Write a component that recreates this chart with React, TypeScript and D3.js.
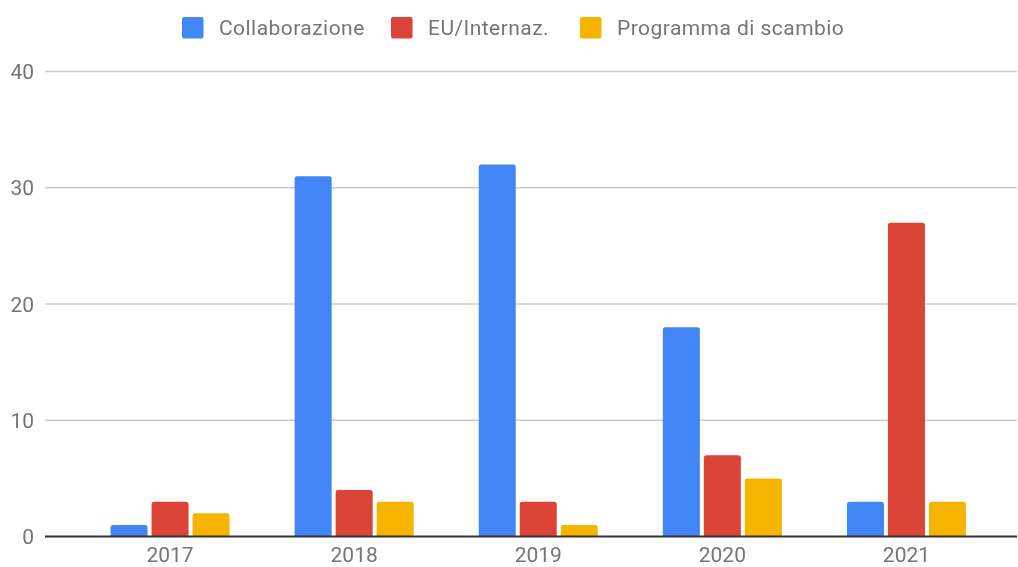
import React from "react";
// @ts-ignore
import * as d3 from "d3";

const WIDTH = 1018;
const HEIGHT = 567;

const years = ["2017", "2018", "2019", "2020", "2021"];
const seriesNames = ["Collaborazione", "EU/Internaz.", "Programma di scambio"];
const collaborazione = [1, 31, 32, 18, 3];
const euInternaz = [3, 4, 3, 7, 27];
const scambio = [2, 3, 1, 5, 3];
const yTicks = [0, 10, 20, 30, 40];
const colors = ["#4285F4", "#DB4437", "#F4B400"];

const FONT = "Roboto, Arial, sans-serif";
const FS = 21;

const App = () => {
  const svgRef = React.useRef<SVGSVGElement>(null);

  React.useEffect(() => {
    const svg = d3.select(svgRef.current);
    svg.selectAll("*").remove();

    const values = [collaborazione, euInternaz, scambio];

    const y = d3.scaleLinear().domain([0, 40]).range([536.5, 71.5]);
    const x0 = d3.scaleBand().domain(years).range([78, 998.5]);
    const x1 = d3
      .scaleBand()
      .domain(seriesNames)
      .range([0, 119])
      .paddingInner(0.0976);

    // gridlines
    svg
      .append("g")
      .selectAll("line")
      .data(yTicks.filter((t) => t > 0))
      .join("line")
      .attr("x1", 45)
      .attr("x2", 1017)
      .attr("y1", (d: number) => y(d))
      .attr("y2", (d: number) => y(d))
      .attr("stroke", "#cccccc")
      .attr("stroke-width", 1.5);

    // y labels
    svg
      .append("g")
      .attr("font-family", FONT)
      .attr("font-size", FS)
      .attr("fill", "#757575")
      .attr("text-anchor", "end")
      .selectAll("text")
      .data(yTicks)
      .join("text")
      .attr("x", 34)
      .attr("y", (d: number) => y(d))
      .attr("dy", "0.36em")
      .text((d: number) => d);

    // bars
    const rows = years.map((yr, i) => ({
      year: yr,
      vals: seriesNames.map((s, j) => ({ name: s, value: values[j][i], color: colors[j] })),
    }));

    const groups = svg
      .append("g")
      .selectAll("g")
      .data(rows)
      .join("g")
      .attr("transform", (d: any) => `translate(${x0(d.year)! + x0.bandwidth() / 2 - 59.5},0)`);

    groups
      .selectAll("path")
      .data((d: any) => d.vals)
      .join("path")
      .attr("fill", (d: any) => d.color)
      .attr("d", (d: any) => {
        const bx = x1(d.name)!;
        const w = x1.bandwidth();
        const top = y(d.value);
        const bottom = y(0);
        const r = Math.min(2.5, (bottom - top) / 2);
        return `M${bx},${bottom} V${top + r} Q${bx},${top} ${bx + r},${top} H${bx + w - r} Q${bx + w},${top} ${bx + w},${top + r} V${bottom} Z`;
      });

    // baseline
    svg
      .append("line")
      .attr("x1", 45)
      .attr("x2", 1017)
      .attr("y1", y(0))
      .attr("y2", y(0))
      .attr("stroke", "#333333")
      .attr("stroke-width", 2);

    // x labels
    svg
      .append("g")
      .attr("font-family", FONT)
      .attr("font-size", FS)
      .attr("fill", "#757575")
      .attr("text-anchor", "middle")
      .selectAll("text")
      .data(years)
      .join("text")
      .attr("x", (d: string) => x0(d)! + x0.bandwidth() / 2)
      .attr("y", 561.5)
      .text((d: string) => d);

    // legend
    const legendX = [182, 391, 580];
    const legend = svg
      .append("g")
      .selectAll("g")
      .data(seriesNames)
      .join("g")
      .attr("transform", (_d: string, i: number) => `translate(${legendX[i]},17)`);

    legend
      .append("rect")
      .attr("width", 21.5)
      .attr("height", 21.5)
      .attr("rx", 2)
      .attr("fill", (_d: string, i: number) => colors[i]);

    legend
      .append("text")
      .attr("x", 37)
      .attr("y", 10.75)
      .attr("dy", "0.36em")
      .attr("font-family", FONT)
      .attr("font-size", FS)
      .attr("letter-spacing", 0.45)
      .attr("fill", "#757575")
      .text((d: string) => d);
  }, []);

  return (
    <div style={{ position: "fixed", top: 0, left: 0, width: WIDTH, height: HEIGHT, overflow: "hidden" }}>
      <svg ref={svgRef} width={WIDTH} height={HEIGHT} style={{ display: "block" }} />
    </div>
  );
};

export default App;
